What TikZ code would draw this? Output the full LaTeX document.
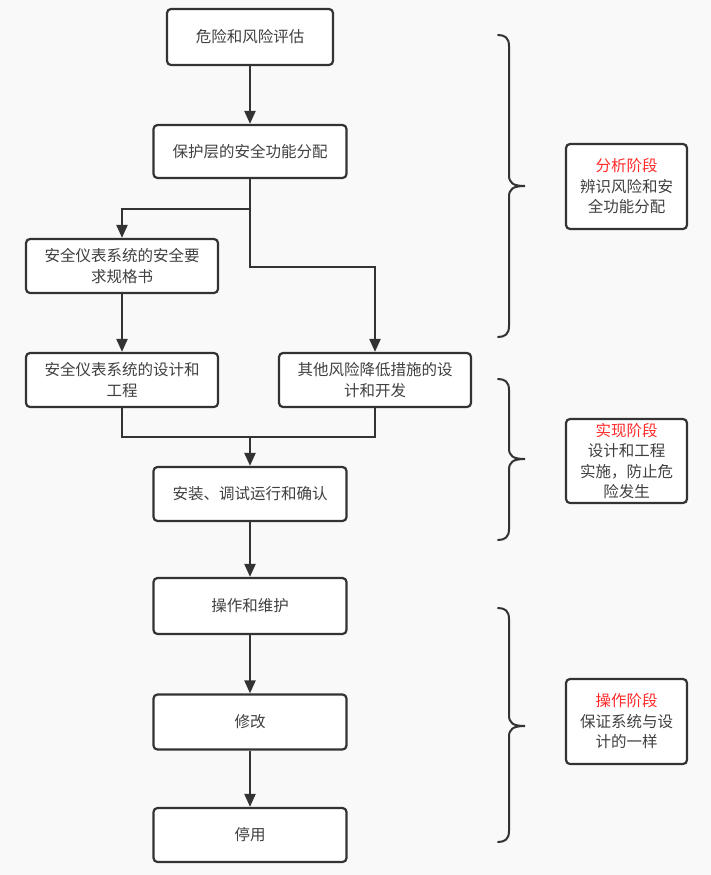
\documentclass[tikz,border=0pt]{standalone}
\usepackage{fontspec}
\newfontfamily\cjk{Noto Sans CJK SC}
\usetikzlibrary{arrows.meta}
\definecolor{ink}{HTML}{333333}
\definecolor{txt}{HTML}{404040}
\definecolor{bg}{HTML}{F9F9F9}
\definecolor{hot}{HTML}{FF2A2A}
\tikzset{
  box/.style={draw=ink, line width=2.2pt, rounded corners=4pt, fill=white, text=txt,
    align=center, inner sep=2pt, font=\cjk\fontsize{15.5}{20.5}\selectfont},
  widebox/.style={box, minimum width=193pt, minimum height=54pt},
  phasebox/.style={box, minimum width=121pt, minimum height=85pt},
  conn/.style={draw=ink, line width=2.2pt},
  arr/.style={conn, -{Triangle[length=13pt,width=11pt]}},
  brace/.style={draw=ink, line width=2pt, line cap=round}
}
\begin{document}
\begin{tikzpicture}[x=1pt,y=-1pt]
\fill[bg] (0,0) rectangle (711,875);
\useasboundingbox (0,0) rectangle (711,875);

\node[box, minimum width=166pt, minimum height=56pt] (b1) at (250,37) {危险和风险评估};
\node[widebox, minimum height=53pt] (b2) at (250,151.5) {保护层的安全功能分配};
\node[widebox, minimum width=192pt] (b3) at (122,266) {安全仪表系统的安全要\\求规格书};
\node[widebox, minimum width=192pt] (b4) at (122,380) {安全仪表系统的设计和\\工程};
\node[widebox, minimum width=192pt] (b5) at (375,380) {其他风险降低措施的设\\计和开发};
\node[widebox] (b6) at (250,494) {安装、调试运行和确认};
\node[widebox, minimum height=56pt] (b7) at (250,606) {操作和维护};
\node[widebox, minimum height=55pt] (b8) at (250,722) {修改};
\node[widebox] (b9) at (250,835) {停用};

\coordinate (j1) at (250,209);
\coordinate (j2) at (250,267);
\coordinate (j3) at (250,437);

\draw[arr] (b1.south) -- (b2.north);
\draw[conn] (b2.south) -- (j1);
\draw[arr] (j1) -| (b3.north);
\draw[arr] (j1) -- (j2) -| (b5.north);
\draw[arr] (b3.south) -- (b4.north);
\draw[conn] (b4.south) |- (j3);
\draw[conn] (b5.south) |- (j3);
\draw[arr] (j3) -- (b6.north);
\draw[arr] (b6.south) -- (b7.north);
\draw[arr] (b7.south) -- (b8.north);
\draw[arr] (b8.south) -- (b9.north);

% braces
\draw[brace] (498,35) .. controls (505,35) and (509,38) .. (509,46) -- (509,175)
  .. controls (509,183) and (513,186) .. (525,186)
  .. controls (513,186) and (509,189) .. (509,197) -- (509,326)
  .. controls (509,334) and (505,337) .. (498,337);
\draw[brace] (498,379) .. controls (505,379) and (509,382) .. (509,390) -- (509,448)
  .. controls (509,456) and (513,459) .. (525,459)
  .. controls (513,459) and (509,462) .. (509,470) -- (509,529)
  .. controls (509,537) and (505,540) .. (498,540);
\draw[brace] (498,608) .. controls (505,608) and (509,611) .. (509,619) -- (509,715)
  .. controls (509,723) and (513,726) .. (525,726)
  .. controls (513,726) and (509,729) .. (509,737) -- (509,831)
  .. controls (509,839) and (505,842) .. (498,842);

\node[phasebox] (p1) at (626.5,186.5) {\textcolor{hot}{分析阶段}\\辨识风险和安\\全功能分配};
\node[phasebox, minimum height=84pt] (p2) at (626.5,461) {\textcolor{hot}{实现阶段}\\设计和工程\\实施，防止危\\险发生};
\node[phasebox] (p3) at (626.5,721.5) {\textcolor{hot}{操作阶段}\\保证系统与设\\计的一样};
\end{tikzpicture}
\end{document}
